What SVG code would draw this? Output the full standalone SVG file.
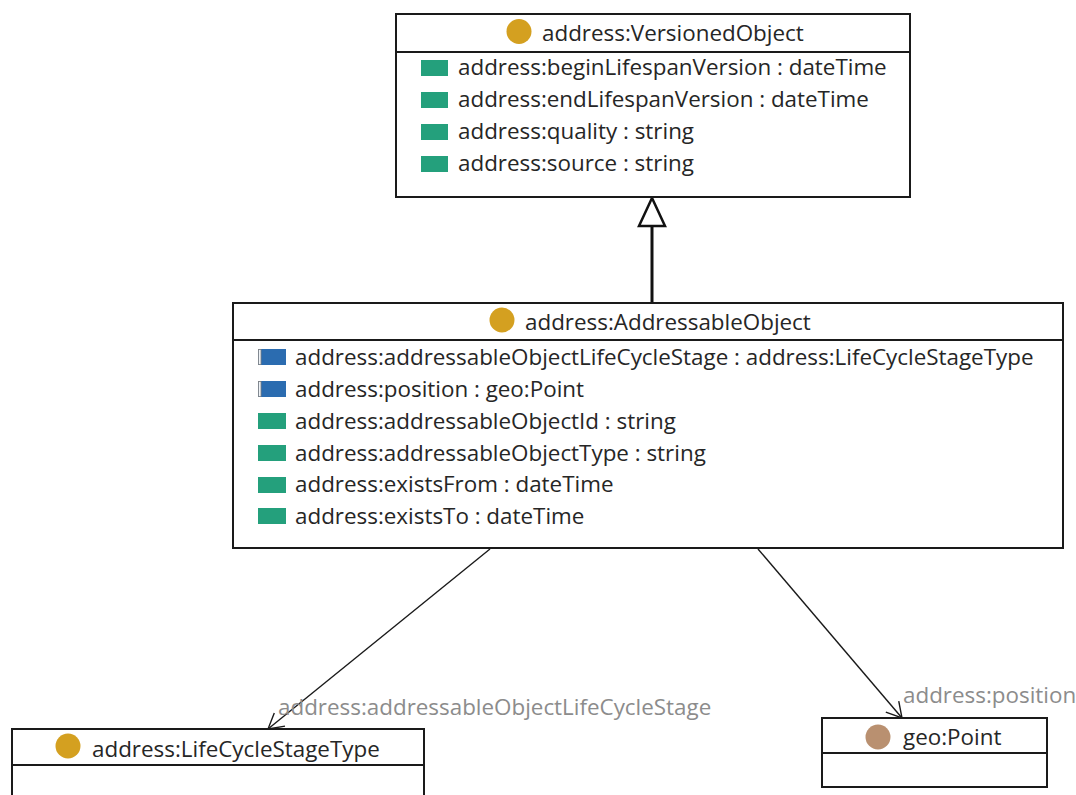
<svg xmlns="http://www.w3.org/2000/svg" width="1076" height="795" viewBox="0 0 1076 795">
  <style>
    .box { fill: #ffffff; stroke: #1a1a1a; stroke-width: 2; }
    .sep { stroke: #1a1a1a; stroke-width: 2; }
    .t { font-family: "Open Sans", "Noto Sans", "Liberation Sans", sans-serif; font-size: 22.4px; fill: #262626; }
    .lbl { font-family: "Open Sans", "Noto Sans", "Liberation Sans", sans-serif; font-size: 22.4px; fill: #8c8c8c; }
    .cls { fill: #d4a020; }
    .geo { fill: #b99070; }
    .dp { fill: #24a07c; }
    .op { fill: #2b6cb0; }
    .opbar { fill: #eef2f6; stroke: #808080; stroke-width: 0.8; }
    .assoc { fill: none; stroke: #1a1a1a; stroke-width: 1.4; }
  </style>
  <defs>
    <marker id="open" markerUnits="userSpaceOnUse" markerWidth="22" markerHeight="20" viewBox="0 0 22 20" refX="19" refY="10" orient="auto">
      <path d="M4,1.5 L19,10 L4,18.5" fill="none" stroke="#1a1a1a" stroke-width="1.4"/>
    </marker>
  </defs>
  <rect width="1076" height="795" fill="#ffffff"/>

  <g id="connectors">
    <line x1="652" y1="303" x2="652" y2="226" stroke="#111" stroke-width="3"/>
    <polygon points="652,198 639,226 665,226" fill="#ffffff" stroke="#111" stroke-width="2.5" stroke-linejoin="miter"/>
    <line class="assoc" x1="490" y1="549" x2="268" y2="729" marker-end="url(#open)"/>
    <line class="assoc" x1="758" y1="549" x2="902" y2="718" marker-end="url(#open)"/>
    <text class="lbl" x="278" y="715">address:addressableObjectLifeCycleStage</text>
    <text class="lbl" x="903" y="703">address:position</text>
  </g>

  <g id="VersionedObject">
    <rect class="box" x="396" y="14" width="514" height="183"/>
    <line class="sep" x1="396" y1="52" x2="910" y2="52"/>
    <circle class="cls" cx="519" cy="31.5" r="12.5"/>
    <text class="t" x="542" y="41">address:VersionedObject</text>
    <rect class="dp" x="421" y="60" width="27" height="16"/>
    <text class="t" x="458" y="75">address:beginLifespanVersion : dateTime</text>
    <rect class="dp" x="421" y="92" width="27" height="16"/>
    <text class="t" x="458" y="107">address:endLifespanVersion : dateTime</text>
    <rect class="dp" x="421" y="124" width="27" height="16"/>
    <text class="t" x="458" y="139">address:quality : string</text>
    <rect class="dp" x="421" y="156" width="27" height="16"/>
    <text class="t" x="458" y="171">address:source : string</text>
  </g>

  <g id="AddressableObject">
    <rect class="box" x="233" y="303" width="830" height="245"/>
    <line class="sep" x1="233" y1="340" x2="1063" y2="340"/>
    <circle class="cls" cx="502" cy="320" r="12.5"/>
    <text class="t" x="525" y="330">address:AddressableObject</text>
    <rect class="op" x="258" y="349" width="28" height="16"/>
    <rect class="opbar" x="258.5" y="349.5" width="2.5" height="15"/>
    <text class="t" x="295" y="365">address:addressableObjectLifeCycleStage : address:LifeCycleStageType</text>
    <rect class="op" x="258" y="381" width="28" height="16"/>
    <rect class="opbar" x="258.5" y="381.5" width="2.5" height="15"/>
    <text class="t" x="295" y="397">address:position : geo:Point</text>
    <rect class="dp" x="258" y="413" width="28" height="16"/>
    <text class="t" x="295" y="429">address:addressableObjectId : string</text>
    <rect class="dp" x="258" y="445" width="28" height="16"/>
    <text class="t" x="295" y="461">address:addressableObjectType : string</text>
    <rect class="dp" x="258" y="477" width="28" height="16"/>
    <text class="t" x="295" y="492">address:existsFrom : dateTime</text>
    <rect class="dp" x="258" y="508" width="28" height="16"/>
    <text class="t" x="295" y="524">address:existsTo : dateTime</text>
  </g>

  <g id="LifeCycleStageType">
    <rect class="box" x="12" y="729" width="412" height="80"/>
    <line class="sep" x1="12" y1="765" x2="424" y2="765"/>
    <circle class="cls" cx="68" cy="746" r="12.5"/>
    <text class="t" x="92" y="757">address:LifeCycleStageType</text>
  </g>

  <g id="geoPoint">
    <rect class="box" x="822" y="718" width="225" height="69"/>
    <line class="sep" x1="822" y1="753" x2="1047" y2="753"/>
    <circle class="geo" cx="878" cy="737" r="12.5"/>
    <text class="t" x="903" y="745">geo:Point</text>
  </g>
</svg>
